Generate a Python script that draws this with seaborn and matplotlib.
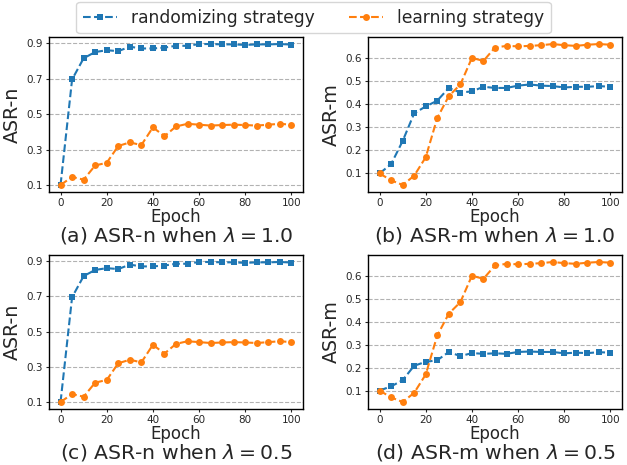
import numpy as np
import pandas as pd
import matplotlib
matplotlib.use("Agg")
import matplotlib.pyplot as plt
import seaborn as sns

epochs = list(range(0, 101, 5))

# ASR-n (same for both lambda values)
asr_n_random = [0.10, 0.695, 0.815, 0.85, 0.86, 0.855, 0.88, 0.87, 0.87, 0.875, 0.885,
                0.885, 0.895, 0.895, 0.893, 0.893, 0.89, 0.893, 0.893, 0.895, 0.892]
asr_n_learn = [0.10, 0.145, 0.13, 0.21, 0.225, 0.32, 0.34, 0.325, 0.425, 0.375, 0.43,
               0.445, 0.44, 0.435, 0.438, 0.44, 0.438, 0.435, 0.44, 0.445, 0.44]

# ASR-m
asr_m_random_10 = [0.10, 0.14, 0.24, 0.36, 0.39, 0.415, 0.47, 0.45, 0.455, 0.475, 0.47,
                   0.47, 0.48, 0.485, 0.48, 0.478, 0.472, 0.475, 0.475, 0.478, 0.475]
asr_m_random_05 = [0.10, 0.118, 0.145, 0.208, 0.225, 0.232, 0.268, 0.25, 0.263, 0.26, 0.262,
                   0.26, 0.268, 0.27, 0.268, 0.268, 0.262, 0.265, 0.263, 0.267, 0.265]
asr_m_learn = [0.10, 0.07, 0.05, 0.09, 0.17, 0.34, 0.435, 0.485, 0.60, 0.587, 0.645,
               0.652, 0.65, 0.652, 0.655, 0.66, 0.655, 0.652, 0.657, 0.66, 0.657]

panels = [
    ("ASR-n", asr_n_random, asr_n_learn, "(a) ASR-n when $\\lambda = 1.0$", [0.1, 0.3, 0.5, 0.7, 0.9]),
    ("ASR-m", asr_m_random_10, asr_m_learn, "(b) ASR-m when $\\lambda = 1.0$", [0.1, 0.2, 0.3, 0.4, 0.5, 0.6]),
    ("ASR-n", asr_n_random, asr_n_learn, "(c) ASR-n when $\\lambda = 0.5$", [0.1, 0.3, 0.5, 0.7, 0.9]),
    ("ASR-m", asr_m_random_05, asr_m_learn, "(d) ASR-m when $\\lambda = 0.5$", [0.1, 0.2, 0.3, 0.4, 0.5, 0.6]),
]

sns.set_style("white")
plt.rcParams["font.family"] = ["DejaVu Sans"]
plt.rcParams["mathtext.fontset"] = "dejavusans"

fig = plt.figure(figsize=(6.27, 4.65), dpi=100)
W, H = 627, 465
rects = [(49, 37, 254, 155), (368, 37, 254, 155), (49, 255, 254, 154), (368, 255, 254, 154)]

blue = "#1f77b4"
orange = "#ff7f0e"

for (ylabel, yr, yl, caption, yticks), (x0, y0, w, h) in zip(panels, rects):
    ax = fig.add_axes([x0 / W, 1 - (y0 + h) / H, w / W, h / H])
    df = pd.DataFrame({"Epoch": epochs, "rand": yr, "learn": yl})
    sns.lineplot(data=df, x="Epoch", y="rand", ax=ax, color=blue, linestyle="--",
                 marker="s", markersize=5, markeredgewidth=0, label="randomizing strategy")
    sns.lineplot(data=df, x="Epoch", y="learn", ax=ax, color=orange, linestyle="--",
                 marker="o", markersize=5, markeredgewidth=0, label="learning strategy")
    ax.set_yticks(yticks)
    ax.set_yticklabels([f"{t:.1f}" for t in yticks])
    ax.set_xticks([0, 20, 40, 60, 80, 100])
    ax.tick_params(axis="both", labelsize=7.5, length=2.5, pad=2, left=True, bottom=True)
    ax.yaxis.grid(True, linestyle="--", color="gray", alpha=0.6, linewidth=0.8)
    ax.set_ylabel(ylabel, fontsize=13.7, labelpad=3)
    ax.set_xlabel("")
    fig.text((x0 + w / 2) / W, 1 - (y0 + h + 25) / H, "Epoch", ha="center", va="center", fontsize=12)
    fig.text((x0 + w / 2) / W, 1 - (y0 + h + 43) / H, caption, ha="center", va="center", fontsize=14.7)
    for s in ax.spines.values():
        s.set_color("black")
        s.set_linewidth(1.0)
    handles, labels = ax.get_legend_handles_labels()
    ax.get_legend().remove()

fig.legend(handles, labels, loc="upper center", ncol=2, fontsize=12.3,
           bbox_to_anchor=(0.5, 1.0), borderaxespad=0.1, frameon=True,
           handlelength=2.0, columnspacing=2.0)

fig.savefig("out.png", dpi=100)
